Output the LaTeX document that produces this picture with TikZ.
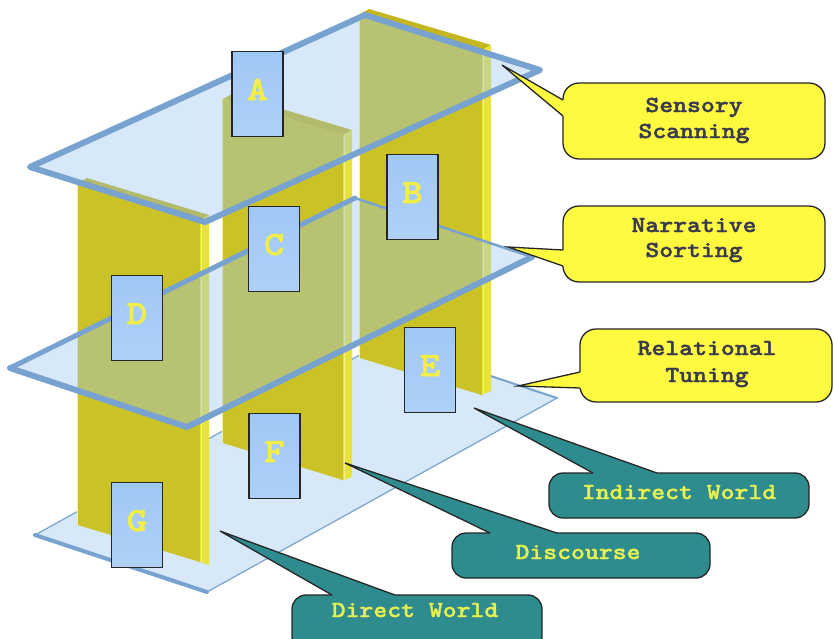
\documentclass[tikz,border=0pt]{standalone}
\usepackage{fontspec}
\newfontfamily\cmono{lmmonolt10-bold.otf}[FakeStretch=1.15,FakeBold=1.6]
\definecolor{planeC}{RGB}{152,195,237}
\definecolor{edgeC}{RGB}{120,162,208}
\definecolor{wallF}{RGB}{203,194,40}
\definecolor{wallS}{RGB}{232,226,60}
\definecolor{wallT}{RGB}{196,182,30}
\definecolor{lblC}{RGB}{160,200,245}
\definecolor{lblTxt}{RGB}{242,238,70}
\definecolor{yC}{RGB}{255,250,64}
\definecolor{yTxt}{RGB}{58,58,78}
\definecolor{tC}{RGB}{46,140,142}
\definecolor{tTxt}{RGB}{232,240,80}
\begin{document}
\begin{tikzpicture}[x=1pt,y=-1pt,
  planefill/.style={fill=planeC, fill opacity=0.38},
  pedge/.style={draw=edgeC, line join=round, line cap=round},
  lbl/.style={rectangle, draw=black!85, line width=1.8pt, top color=lblC!92!black!0!blue!0!lblC, bottom color=lblC!85!white, fill=lblC,
    minimum width=51pt, minimum height=85pt, inner sep=0pt,
    font=\cmono\fontsize{34}{34}\selectfont, text=lblTxt,
    text height=21pt, text depth=9pt},
  ycall/.style={rectangle, rounded corners=16pt, draw=black!85, line width=1.3pt, fill=yC, inner sep=0pt},
  tcall/.style={rectangle, rounded corners=14pt, draw=black!85, line width=1.3pt, fill=tC, inner sep=0pt},
  callline/.style={draw=black!85, line width=1.3pt, line join=miter},
  ytext/.style={font=\cmono\fontsize{23}{23}\selectfont, text=yTxt, inner sep=0pt, anchor=base},
  ttext/.style={font=\cmono\fontsize{23}{23}\selectfont, text=tTxt, inner sep=0pt, anchor=base},
  walledge/.style={draw=wallS!50!white, line width=0.8pt}
]
\fill[white] (0,0) rectangle (834,638);
\useasboundingbox (0,0) rectangle (834,638);

% ---------- bottom plane ----------
\coordinate (B1) at (35,535); \coordinate (B2) at (207,592);
\coordinate (B3) at (557,398); \coordinate (B4) at (385,341);
\fill[planefill] (B1)--(B2)--(B3)--(B4)--cycle;
\draw[pedge, line width=1.2pt] (B2)--(B3);
\draw[pedge, line width=2pt] (B3)--(B4);
\draw[pedge, line width=1.2pt] (B4)--(B1);
\draw[pedge, line width=4pt] (B1)--(B2);

% ---------- walls ----------
% right wall
\fill[wallF] (360,14)--(482,50)--(482,395)--(360,358)--cycle;
\fill[wallT] (360,14)--(482,50)--(491,45)--(369,9)--cycle;
\fill[wallS] (482,50)--(491,45)--(491,391)--(482,395)--cycle;
\draw[walledge] (483,50)--(483,394);
\draw[walledge] (359.5,14)--(359.5,358);
% middle wall
\fill[wallF] (223,99)--(343,135)--(343,480)--(223,443)--cycle;
\fill[wallT] (223,99)--(343,135)--(352,130)--(232,94)--cycle;
\fill[wallS] (343,135)--(352,130)--(352,477)--(343,480)--cycle;
\draw[walledge] (344,135)--(344,479);
\draw[walledge] (222.5,99)--(222.5,443);
% left wall
\fill[wallF] (78,183)--(200,220)--(200,562)--(78,525)--cycle;
\fill[wallT] (78,183)--(200,220)--(209,215)--(87,178)--cycle;
\fill[wallS] (200,220)--(209,215)--(209,565)--(200,562)--cycle;
\draw[walledge] (201,220)--(201,562);
\draw[walledge] (77.5,183)--(77.5,525);

% ---------- middle plane ----------
\coordinate (M1) at (10,368); \coordinate (M2) at (187,427);
\coordinate (M3) at (532,257); \coordinate (M4) at (355,198);
\fill[planefill] (M1)--(M2)--(M3)--(M4)--cycle;
\draw[pedge, line width=2.5pt] (M3)--(M4);
\draw[pedge, line width=5pt] (M4)--(M1);
\draw[pedge, line width=6pt] (M1)--(M2)--(M3);

% ---------- top plane ----------
\coordinate (T1) at (30,167); \coordinate (T2) at (205,222);
\coordinate (T3) at (540,70); \coordinate (T4) at (365,15);
\fill[planefill] (T1)--(T2)--(T3)--(T4)--cycle;
\draw[pedge, line width=6pt] (T1)--(T2)--(T3)--(T4)--cycle;

% ---------- label boxes ----------
\node[lbl] (A) at (257.5,94) {A};
\node[lbl] (B) at (412.5,197) {B};
\node[lbl] (C) at (274,249) {C};
\node[lbl] (D) at (137,318) {D};
\node[lbl] (E) at (430,370) {E};
\node[lbl] (F) at (274.5,456) {F};
\node[lbl] (G) at (137,525) {G};

% ---------- yellow callouts ----------
% Sensory Scanning
\node[ycall, minimum width=262pt, minimum height=76pt] (ss) at (694,121) {};
\coordinate (sstip) at (502,65);
\coordinate (ssb1) at (563,100); \coordinate (ssb2) at (563,116);
\fill[yC] (sstip)--(ssb1)--([xshift=3pt]ssb1)--([xshift=3pt]ssb2)--(ssb2)--cycle;
\draw[callline] (ssb1)--(sstip)--(ssb2);
\node[ytext] (ss1) at (694,112) {Sensory};
\node[ytext] (ss2) at (694,138) {Scanning};

% Narrative Sorting
\node[ycall, minimum width=262pt, minimum height=76pt] (ns) at (694,244) {};
\coordinate (nstip) at (508,247);
\coordinate (nsb1) at (563,250); \coordinate (nsb2) at (563,266);
\fill[yC] (nstip)--(nsb1)--([xshift=3pt]nsb1)--([xshift=3pt]nsb2)--(nsb2)--cycle;
\draw[callline] (nsb1)--(nstip)--(nsb2);
\node[ytext] (ns1) at (694,232) {Narrative};
\node[ytext] (ns2) at (694,257) {Sorting};

% Relational Tuning
\node[ycall, minimum width=252pt, minimum height=73pt] (rt) at (706,365.5) {};
\coordinate (rttip) at (518,386);
\coordinate (rtb1) at (580,372); \coordinate (rtb2) at (580,388);
\fill[yC] (rttip)--(rtb1)--([xshift=3pt]rtb1)--([xshift=3pt]rtb2)--(rtb2)--cycle;
\draw[callline] (rtb1)--(rttip)--(rtb2);
\node[ytext] (rt1) at (707,355) {Relational};
\node[ytext] (rt2) at (707,382) {Tuning};

% ---------- teal callouts ----------
% Indirect World
\node[tcall, minimum width=260pt, minimum height=45pt] (iw) at (679,495.5) {};
\coordinate (iwtip) at (474,408);
\coordinate (iwb1) at (593,473); \coordinate (iwb2) at (657,473);
\fill[tC] (iwtip)--(iwb1)--([yshift=-3pt]iwb1)--([yshift=-3pt]iwb2)--(iwb2)--cycle;
\draw[callline] (iwb1)--(iwtip)--(iwb2);
\node[ttext] (iw1) at (679,499) {Indirect World};

% Discourse
\node[tcall, minimum width=258pt, minimum height=45pt] (dc) at (581,555.5) {};
\coordinate (dctip) at (345,463);
\coordinate (dcb1) at (490,533); \coordinate (dcb2) at (557,533);
\fill[tC] (dctip)--(dcb1)--([yshift=-3pt]dcb1)--([yshift=-3pt]dcb2)--(dcb2)--cycle;
\draw[callline] (dcb1)--(dctip)--(dcb2);
\node[ttext] (dc1) at (578,559) {Discourse};

% Direct World
\node[tcall, minimum width=250pt, minimum height=56pt] (dw) at (417,623) {};
\coordinate (dwtip) at (220,531);
\coordinate (dwb1) at (332,595); \coordinate (dwb2) at (395,595);
\fill[tC] (dwtip)--(dwb1)--([yshift=-3pt]dwb1)--([yshift=-3pt]dwb2)--(dwb2)--cycle;
\draw[callline] (dwb1)--(dwtip)--(dwb2);
\node[ttext] (dw1) at (415,617) {Direct World};
\end{tikzpicture}
\end{document}
